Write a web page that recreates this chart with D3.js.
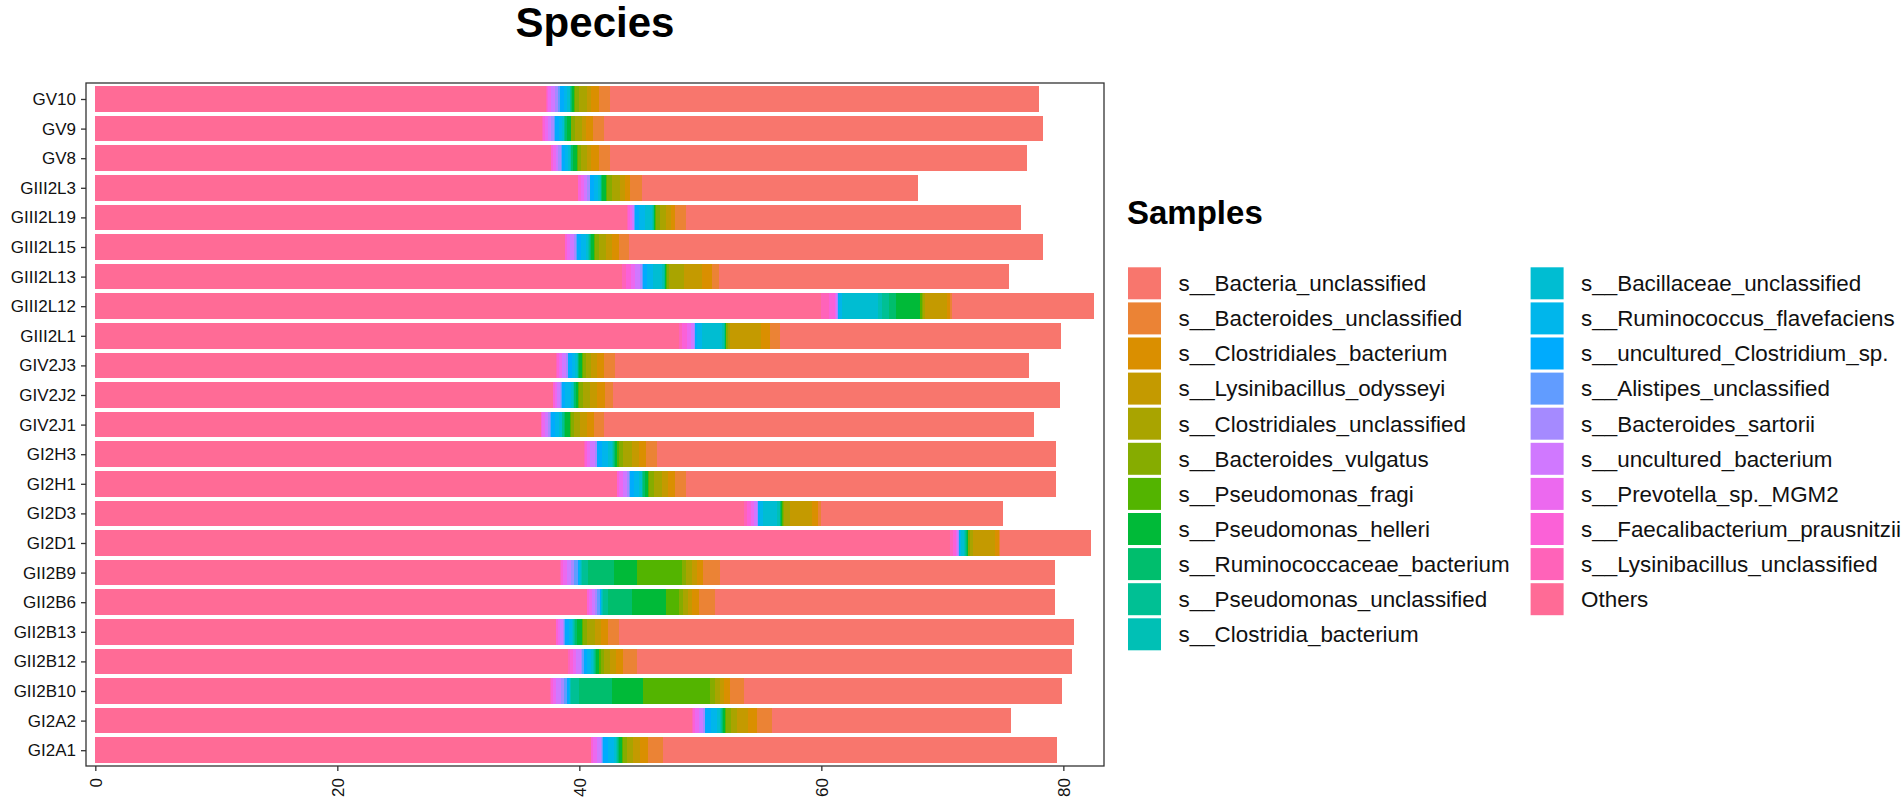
<!DOCTYPE html>
<html>
<head>
<meta charset="utf-8">
<script src="https://cdn.jsdelivr.net/npm/d3@7"></script>
<style>
  body { margin: 0; background: #fff; }
  text { font-family: 'Liberation Sans', Arial, Helvetica, sans-serif; }
</style>
</head>
<body>
<div class="canvas"></div>
<script>
// samples, top to bottom
const samples = ['GV10', 'GV9', 'GV8', 'GIII2L3', 'GIII2L19', 'GIII2L15', 'GIII2L13', 'GIII2L12',
  'GIII2L1', 'GIV2J3', 'GIV2J2', 'GIV2J1', 'GI2H3', 'GI2H1', 'GI2D3', 'GI2D1', 'GII2B9',
  'GII2B6', 'GII2B13', 'GII2B12', 'GII2B10', 'GI2A2', 'GI2A1'];

const xTicks = [0, 20, 40, 60, 80];

// series values, one per species (same order as samples)
const bacteriaUncl = [35.5, 36.3, 34.45, 22.85, 27.7, 34.2, 23.95, 11.7, 23.2, 34.25, 36.9, 35.55, 32.95, 30.55, 15.0, 7.55, 27.7, 28.1, 37.6, 35.9, 26.3, 19.8, 32.6];
const bacteroidesUncl = [0.9, 0.85, 0.9, 0.95, 0.9, 0.8, 0.6, 0.15, 0.85, 0.9, 0.7, 0.85, 0.9, 0.95, 0.3, 0.1, 1.4, 1.35, 0.9, 1.15, 1.15, 1.25, 1.2];
const clostridialesBact = [0.65, 0.6, 0.65, 0.45, 0.3, 0.6, 0.85, 0.3, 0.7, 0.6, 0.6, 0.6, 0.6, 0.6, 0.5, 0.3, 0.5, 0.55, 0.6, 0.6, 0.5, 0.75, 0.65];
const odysseyi = [0.35, 0.35, 0.4, 0.4, 0.4, 0.5, 1.45, 1.75, 2.6, 0.45, 0.6, 0.55, 0.6, 0.5, 1.75, 1.8, 0.4, 0.3, 0.5, 0.5, 0.3, 0.9, 0.6];
const clostridialesUncl = [0.65, 0.55, 0.5, 0.65, 0.5, 0.55, 1.2, 0.2, 0.2, 0.45, 0.6, 0.45, 0.7, 0.65, 0.5, 0.3, 0.45, 0.45, 0.65, 0.5, 0.45, 0.5, 0.5];
const vulgatus = [0.3, 0.3, 0.25, 0.4, 0.35, 0.35, 0.2, 0.1, 0.1, 0.25, 0.35, 0.3, 0.4, 0.4, 0.15, 0.1, 0.4, 0.35, 0.35, 0.3, 0.4, 0.35, 0.35];
const fragi = [0.05, 0.05, 0.05, 0.1, 0.1, 0.1, 0.05, 0.15, 0.05, 0.05, 0.05, 0.1, 0.1, 0.1, 0.05, 0.05, 3.7, 1.0, 0.1, 0.1, 5.5, 0.1, 0.1];
const helleri = [0.2, 0.35, 0.3, 0.3, 0.05, 0.2, 0.1, 2.0, 0.05, 0.25, 0.2, 0.35, 0.2, 0.25, 0.1, 0.1, 1.85, 2.85, 0.4, 0.25, 2.6, 0.15, 0.2];
const ruminococcaceae = [0.1, 0.15, 0.15, 0.1, 0.05, 0.1, 0.05, 0.55, 0.05, 0.1, 0.1, 0.15, 0.1, 0.1, 0.05, 0.05, 2.2, 2.0, 0.15, 0.1, 2.75, 0.1, 0.1];
const pseudomonasUncl = [0.05, 0.05, 0.05, 0.05, 0.05, 0.1, 0.05, 0.6, 0.05, 0.05, 0.05, 0.1, 0.1, 0.1, 0.05, 0.05, 0.5, 0.4, 0.1, 0.1, 0.6, 0.1, 0.1];
const clostridiaBact = [0.05, 0.05, 0.05, 0.05, 0.1, 0.05, 0.2, 0.3, 0.2, 0.05, 0.05, 0.05, 0.05, 0.05, 0.25, 0.1, 0.1, 0.1, 0.05, 0.05, 0.1, 0.05, 0.05];
const bacillaceae = [0.2, 0.15, 0.15, 0.15, 0.55, 0.2, 0.7, 3.0, 1.6, 0.15, 0.2, 0.2, 0.3, 0.2, 1.1, 0.25, 0.05, 0.05, 0.1, 0.15, 0.05, 0.3, 0.2];
const ruminococcus = [0.3, 0.25, 0.25, 0.3, 0.5, 0.4, 0.5, 0.2, 0.4, 0.25, 0.45, 0.35, 0.5, 0.45, 0.3, 0.1, 0.05, 0.05, 0.25, 0.35, 0.05, 0.5, 0.5];
const unculturedClostridium = [0.3, 0.3, 0.25, 0.35, 0.35, 0.35, 0.3, 0.1, 0.15, 0.3, 0.3, 0.35, 0.4, 0.3, 0.1, 0.05, 0.1, 0.05, 0.35, 0.3, 0.15, 0.45, 0.4];
const alistipes = [0.2, 0.1, 0.1, 0.05, 0.05, 0.05, 0.1, 0.05, 0.05, 0.05, 0.05, 0.05, 0.05, 0.1, 0.05, 0.05, 0.3, 0.25, 0.05, 0.1, 0.3, 0.05, 0.05];
const sartorii = [0.2, 0.2, 0.25, 0.2, 0.05, 0.15, 0.2, 0.05, 0.05, 0.15, 0.1, 0.15, 0.15, 0.15, 0.1, 0.05, 0.3, 0.15, 0.1, 0.15, 0.25, 0.15, 0.15];
const unculturedBacterium = [0.35, 0.3, 0.2, 0.3, 0.15, 0.35, 0.4, 0.1, 0.3, 0.35, 0.25, 0.3, 0.4, 0.35, 0.25, 0.1, 0.35, 0.25, 0.25, 0.35, 0.35, 0.3, 0.3];
const prevotella = [0.2, 0.25, 0.2, 0.25, 0.15, 0.25, 0.3, 0.1, 0.3, 0.25, 0.2, 0.2, 0.3, 0.3, 0.25, 0.1, 0.3, 0.25, 0.2, 0.3, 0.3, 0.3, 0.3];
const faecalibacterium = [0.15, 0.15, 0.15, 0.2, 0.15, 0.15, 0.45, 0.5, 0.4, 0.15, 0.1, 0.1, 0.15, 0.15, 0.3, 0.2, 0.2, 0.15, 0.1, 0.25, 0.15, 0.2, 0.15];
const lysinibacillusUncl = [0.05, 0.05, 0.05, 0.05, 0.1, 0.05, 0.35, 0.6, 0.3, 0.05, 0.05, 0.05, 0.05, 0.05, 0.2, 0.25, 0.05, 0.05, 0.05, 0.1, 0.05, 0.1, 0.05];
const others = [37.25, 36.95, 37.65, 39.85, 43.95, 38.8, 43.5, 60.0, 48.2, 38.1, 37.8, 36.8, 40.4, 43.1, 53.65, 70.65, 38.4, 40.6, 38.05, 39.1, 37.6, 49.3, 40.95];

// legend order
const speciesNames = ['s__Bacteria_unclassified', 's__Bacteroides_unclassified', 's__Clostridiales_bacterium',
  's__Lysinibacillus_odysseyi', 's__Clostridiales_unclassified', 's__Bacteroides_vulgatus',
  's__Pseudomonas_fragi', 's__Pseudomonas_helleri', 's__Ruminococcaceae_bacterium',
  's__Pseudomonas_unclassified', 's__Clostridia_bacterium', 's__Bacillaceae_unclassified',
  's__Ruminococcus_flavefaciens', 's__uncultured_Clostridium_sp.', 's__Alistipes_unclassified',
  's__Bacteroides_sartorii', 's__uncultured_bacterium', 's__Prevotella_sp._MGM2',
  's__Faecalibacterium_prausnitzii', 's__Lysinibacillus_unclassified', 'Others'];
const speciesValues = [bacteriaUncl, bacteroidesUncl, clostridialesBact, odysseyi, clostridialesUncl,
  vulgatus, fragi, helleri, ruminococcaceae, pseudomonasUncl, clostridiaBact, bacillaceae,
  ruminococcus, unculturedClostridium, alistipes, sartorii, unculturedBacterium, prevotella,
  faecalibacterium, lysinibacillusUncl, others];

//ggplot style hue palette (polar LUV -> sRGB)
const hueColor = (h, c = 100, l = 65) => {
  const WX = 95.047, WY = 100, WZ = 108.883;
  const hr = (h * Math.PI) / 180;
  const Y = WY * (l > 7.999592 ? Math.pow((l + 16) / 116, 3) : l / 903.3);
  const t = WX + WY + WZ;
  const xn = WX / t, yn = WY / t;
  const uN = (2 * xn) / (6 * yn - xn + 1.5);
  const vN = (4.5 * yn) / (6 * yn - xn + 1.5);
  const u = (c * Math.cos(hr)) / (13 * l) + uN;
  const v = (c * Math.sin(hr)) / (13 * l) + vN;
  const X = (9 * Y * u) / (4 * v);
  const Z = -X / 3 - 5 * Y + (3 * Y) / v;
  const gam = (q) => {
    q = q > 0.00304 ? 1.055 * Math.pow(q, 1 / 2.4) - 0.055 : 12.92 * q;
    return Math.max(0, Math.min(1, q)) * 255;
  };
  const r = gam((3.240479 * X - 1.53715 * Y - 0.498535 * Z) / WY);
  const g = gam((-0.969256 * X + 1.875992 * Y + 0.041556 * Z) / WY);
  const b = gam((0.055648 * X - 0.204043 * Y + 1.057311 * Z) / WY);
  return d3.rgb(r, g, b).formatHex();
};

const colour = d3
  .scaleOrdinal()
  .domain(speciesNames)
  .range(speciesNames.map((d, i) => hueColor(15 + (360 * i) / speciesNames.length)));

//table for the stack
const table = samples.map((s, i) => {
  const row = { sample: s };
  speciesNames.forEach((name, j) => (row[name] = speciesValues[j][i]));
  return row;
});

//Others sits at the base of each bar
const stack = d3.stack().keys(speciesNames.slice().reverse());
const layers = stack(table);

const width = 1902;
const height = 797;
const panel = { left: 86, right: 1104, top: 83, bottom: 766 };

const svg = d3
  .select('.canvas')
  .append('svg')
  .attr('width', width)
  .attr('height', height);

//scales
const x = d3.scaleLinear().domain([-0.77, 83.36]).range([panel.left, panel.right]);
const y = d3.scalePoint().domain(samples).range([99, 750.2]);
const barH = y.step() * 0.87;

//bars
svg
  .append('g')
  .selectAll('g')
  .data(layers)
  .join('g')
  .attr('fill', (d) => colour(d.key))
  .selectAll('rect')
  .data((d) => d)
  .join('rect')
  .attr('x', (d) => x(d[0]))
  .attr('width', (d) => Math.max(0, x(d[1]) - x(d[0])))
  .attr('y', (d) => y(d.data.sample) - barH / 2)
  .attr('height', barH)
  .attr('shape-rendering', 'crispEdges');

//panel border
svg
  .append('rect')
  .attr('x', panel.left)
  .attr('y', panel.top)
  .attr('width', panel.right - panel.left)
  .attr('height', panel.bottom - panel.top)
  .attr('fill', 'none')
  .attr('stroke', '#333')
  .attr('stroke-width', 1.3);

//axes
const yAxisGroup = svg
  .append('g')
  .attr('transform', `translate(${panel.left}, 0)`)
  .call(d3.axisLeft(y).tickSize(5).tickSizeOuter(0).tickPadding(5));

const xAxisGroup = svg
  .append('g')
  .attr('transform', `translate(0, ${panel.bottom})`)
  .call(d3.axisBottom(x).tickValues(xTicks).tickSize(5).tickSizeOuter(0));

[yAxisGroup, xAxisGroup].forEach((g) => {
  g.select('.domain').remove();
  g.selectAll('line').attr('stroke', '#333').attr('stroke-width', 1.3);
  g.selectAll('text').attr('fill', '#111').style('font-size', '17px');
});

//rotate x labels
xAxisGroup
  .selectAll('text')
  .attr('transform', 'rotate(-90)')
  .attr('text-anchor', 'end')
  .attr('x', -12)
  .attr('y', 0)
  .attr('dy', '0.35em');

//title
svg
  .append('text')
  .attr('x', 595)
  .attr('y', 37)
  .attr('text-anchor', 'middle')
  .style('font-size', '42px')
  .style('font-weight', 'bold')
  .text('Species');

//legend
const legend = svg.append('g');

legend
  .append('text')
  .attr('x', 1127)
  .attr('y', 224)
  .style('font-size', '33px')
  .style('font-weight', 'bold')
  .text('Samples');

const perCol = 11;
const item = legend
  .selectAll('g.item')
  .data(speciesNames)
  .join('g')
  .attr('class', 'item')
  .attr('transform', (d, i) => {
    const col = Math.floor(i / perCol);
    const row = i % perCol;
    return `translate(${1128 + col * 402.6}, ${267.3 + row * 35.1})`;
  });

item
  .append('rect')
  .attr('width', 33)
  .attr('height', 32)
  .attr('fill', (d) => colour(d));

item
  .append('text')
  .attr('x', 50.5)
  .attr('y', 16)
  .attr('dy', '0.35em')
  .style('font-size', '22.4px')
  .attr('fill', '#111')
  .text((d) => d);
</script>
</body>
</html>
